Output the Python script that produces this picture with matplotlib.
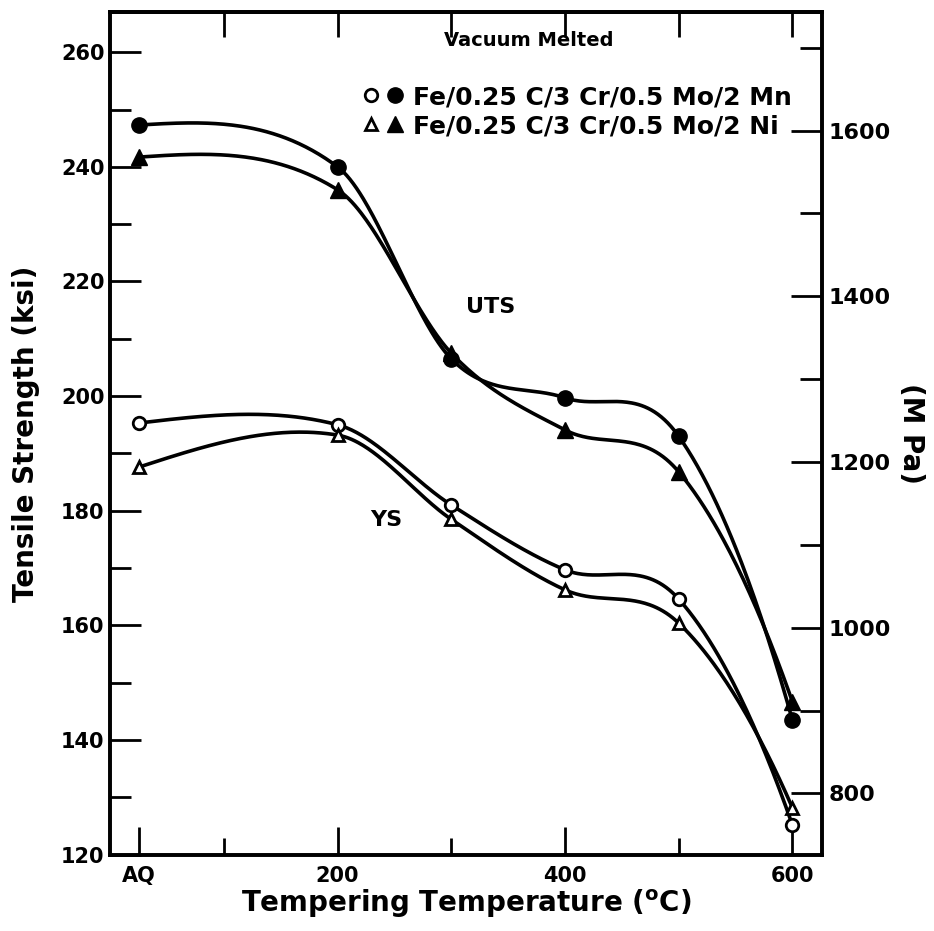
import numpy as np
import matplotlib
matplotlib.use("Agg")
import matplotlib.pyplot as plt
from matplotlib.legend_handler import HandlerTuple
from matplotlib.lines import Line2D

# tempering temperature, AQ = as quenched (room temperature)
temps = [25, 200, 300, 400, 500, 600]
tick_pos = [25, 200, 400, 600]
tick_labels = ["AQ", "200", "400", "600"]

# strength in ksi
uts_mn = [247.3, 240.0, 206.5, 199.7, 193.0, 143.5]
uts_ni = [241.7, 236.0, 207.5, 194.1, 186.8, 146.7]
ys_mn = [195.3, 195.0, 181.0, 169.7, 164.6, 125.2]
ys_ni = [187.6, 193.2, 178.5, 166.2, 160.4, 128.2]


def smooth(x, y, n=400):
    # Catmull-Rom style hermite curve through the points (drawing only)
    x = np.asarray(x, float)
    y = np.asarray(y, float)
    k = len(x)
    h = np.diff(x)
    dl = np.diff(y) / h
    d = np.zeros(k)
    d[1:-1] = (y[2:] - y[:-2]) / (x[2:] - x[:-2])
    d[0] = (3 * dl[0] - d[1]) / 2
    d[-1] = 2 * dl[-1] - d[-2]
    xs = np.linspace(x[0], x[-1], n)
    idx = np.clip(np.searchsorted(x, xs) - 1, 0, k - 2)
    t = (xs - x[idx]) / h[idx]
    h00 = 2 * t ** 3 - 3 * t ** 2 + 1
    h10 = t ** 3 - 2 * t ** 2 + t
    h01 = -2 * t ** 3 + 3 * t ** 2
    h11 = t ** 3 - t ** 2
    ys = (h00 * y[idx] + h10 * h[idx] * d[idx] + h01 * y[idx + 1]
          + h11 * h[idx] * d[idx + 1])
    return xs, ys


plt.rcParams['font.family'] = ['DejaVu Sans']
plt.rcParams['font.weight'] = 'bold'

fig = plt.figure(figsize=(9.34, 9.31), dpi=100)
ax = fig.add_axes([0.118, 0.082, 0.762, 0.905])

for ser in (uts_mn, uts_ni, ys_mn, ys_ni):
    xs, ys = smooth(temps, ser)
    ax.plot(xs, ys, color='black', lw=2.6, zorder=2)

ax.plot(temps, uts_mn, 'o', ms=11, color='black', zorder=3)
ax.plot(temps, uts_ni, '^', ms=11, color='black', zorder=3)
ax.plot(temps, ys_mn, 'o', ms=9, mfc='white', mec='black', mew=2, zorder=3)
ax.plot(temps, ys_ni, '^', ms=9, mfc='white', mec='black', mew=2, zorder=3)

ax.set_xlim(0, 626)
ax.set_ylim(120, 267)

ax.set_xticks(tick_pos)
ax.set_xticklabels(tick_labels)
ax.set_xticks([100, 300, 500], minor=True)
ax.tick_params(axis='x', which='major', direction='in', length=20, width=2,
               labelsize=15, pad=8)
ax.tick_params(axis='x', which='minor', direction='in', length=12, width=2)

# ticks along the top edge (no AQ tick there)
top = ax.secondary_xaxis('top')
top.set_xticks([100, 200, 300, 400, 500, 600])
top.set_xticklabels([])
top.tick_params(direction='in', length=18, width=2)
top.spines['top'].set_linewidth(2.6)

ax.set_yticks(np.arange(120, 261, 20))
ax.set_yticks(np.arange(130, 261, 20), minor=True)
ax.tick_params(axis='y', which='major', direction='in', length=22, width=2,
               labelsize=15, pad=4)
ax.tick_params(axis='y', which='minor', direction='in', length=15, width=2)

for s in ax.spines.values():
    s.set_linewidth(2.6)

ax.set_xlabel("Tempering Temperature ($\\mathregular{^o}$C)", fontsize=20,
              fontweight='bold', labelpad=1)
ax.set_ylabel("Tensile Strength (ksi)", fontsize=20, fontweight='bold',
              labelpad=15)

# MPa scale on the right
ax2 = ax.twinx()
ax2.set_ylim(726, 1743)
ax2.set_yticks(np.arange(800, 1601, 200))
ax2.set_yticks(np.arange(900, 1701, 200), minor=True)
ax2.tick_params(axis='y', which='major', direction='in', length=22, width=2,
                labelsize=16, pad=5)
ax2.tick_params(axis='y', which='minor', direction='in', length=16, width=2)
ax2.set_ylabel("(M Pa)", fontsize=20, fontweight='bold', rotation=270,
               labelpad=24)
for s in ax2.spines.values():
    s.set_linewidth(2.6)

ax.text(335, 215.5, "UTS", fontsize=16, ha='center', va='center')
ax.text(243, 178.4, "YS", fontsize=16, ha='center', va='center')
ax.text(368, 262, "Vacuum Melted", fontsize=14, ha='center', va='center')

h_mn = (Line2D([], [], ls='', marker='o', ms=9, mfc='white', mec='black', mew=2),
        Line2D([], [], ls='', marker='o', ms=11, color='black'))
h_ni = (Line2D([], [], ls='', marker='^', ms=9, mfc='white', mec='black', mew=2),
        Line2D([], [], ls='', marker='^', ms=11, color='black'))
leg = ax.legend([h_mn, h_ni],
                ["Fe/0.25 C/3 Cr/0.5 Mo/2 Mn", "Fe/0.25 C/3 Cr/0.5 Mo/2 Ni"],
                handler_map={tuple: HandlerTuple(ndivide=None, pad=0.3)},
                fontsize=18, frameon=False, loc='center left',
                bbox_to_anchor=(0.355, 0.882), handlelength=1.6,
                handletextpad=0.4, labelspacing=0.2, borderpad=0,
                borderaxespad=0)

fig.savefig("out.png", dpi=100)
